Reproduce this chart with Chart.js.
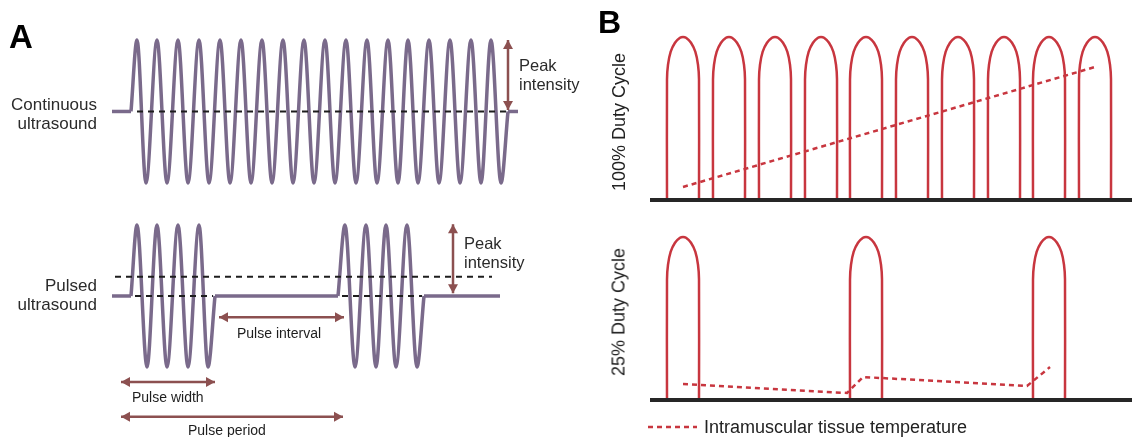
<!DOCTYPE html>
<html>
<head>
<meta charset="utf-8">
<script src="https://cdn.jsdelivr.net/npm/chart.js@4.4.1/dist/chart.umd.min.js"></script>
<style>
  html, body { margin: 0; padding: 0; background: #fff; }
  #page { position: relative; width: 1132px; height: 437px; overflow: hidden;
          font-family: "Liberation Sans", Arial, sans-serif; color: #2b2b2b; }
  canvas { position: absolute; }
  .lbl { position: absolute; white-space: nowrap; line-height: 20px; height: 20px; }
  .right { text-align: right; }
  .big { font-size: 17px; }
  .mid { font-size: 16.5px; }
  .small { font-size: 14px; color: #1e1e1e; }
  .panel { font-weight: bold; color: #000; }
  .rot { position: absolute; white-space: nowrap; font-size: 18px; color: #222;
         transform: translate(-50%, -50%) rotate(-90deg); }
</style>
</head>
<body>
<div id="page">
  <canvas id="contChart" width="590" height="200" style="left:0;top:0"></canvas>
  <canvas id="pulseChart" width="590" height="237" style="left:0;top:200px"></canvas>
  <canvas id="duty100Chart" width="542" height="215" style="left:590px;top:0"></canvas>
  <canvas id="duty25Chart" width="542" height="222" style="left:590px;top:215px"></canvas>

  <div class="lbl panel" style="left:9px;top:20px;font-size:33px;line-height:34px;height:34px">A</div>
  <div class="lbl big right" style="right:1035px;top:95px">Continuous</div>
  <div class="lbl big right" style="right:1035px;top:114px">ultrasound</div>
  <div class="lbl mid" style="left:519px;top:55px">Peak</div>
  <div class="lbl mid" style="left:519px;top:74px">intensity</div>

  <div class="lbl big right" style="right:1035px;top:276px">Pulsed</div>
  <div class="lbl big right" style="right:1035px;top:295px">ultrasound</div>
  <div class="lbl mid" style="left:464px;top:233px">Peak</div>
  <div class="lbl mid" style="left:464px;top:252px">intensity</div>
  <div class="lbl small" style="left:237px;top:323px">Pulse interval</div>
  <div class="lbl small" style="left:132px;top:387px">Pulse width</div>
  <div class="lbl small" style="left:188px;top:420px">Pulse period</div>

  <div class="lbl panel" style="left:598px;top:5px;font-size:32px;line-height:34px;height:34px">B</div>
  <div class="rot" style="left:619px;top:122px">100% Duty Cycle</div>
  <div class="rot" style="left:619px;top:312px">25% Duty Cycle</div>

  <svg width="60" height="10" style="position:absolute;left:646px;top:422px">
    <line x1="2" y1="5" x2="51" y2="5" stroke="#c8363f" stroke-width="2.5" stroke-dasharray="5 4"/>
  </svg>
  <div class="lbl" style="left:704px;top:417px;font-size:18px;color:#222">Intramuscular tissue temperature</div>
</div>

<script>
// ---- Panel A: continuous ultrasound (x = time, y = relative intensity) ----
const contLeadX = [112, 131];
const contPeakX = [137, 157, 178, 199, 220, 241, 262, 283, 304, 325, 346, 367, 388, 408, 429, 450, 471, 491];
const contTroughX = [146, 167, 188, 209, 230, 251, 272, 293, 314, 335, 356, 377, 398, 418, 439, 460, 481, 501];
const contTailX = [508, 518];
const contMeanX = [137, 508];
const contArrowX = [508, 508];
const contArrowY = [1.0, 0.02];

// ---- Panel A: pulsed ultrasound ----
const pulseFlatX = [[112, 131], [215, 338], [424, 500]];
const pulse1PeakX = [137, 157, 178, 199];
const pulse1TroughX = [147, 167, 188, 208];
const pulse2PeakX = [345, 366, 386, 407];
const pulse2TroughX = [355, 376, 396, 417];
const pulseAvgX = [115, 492];
const pulseAvgY = 0.27;
const pulseZeroDashX = [[135, 213], [342, 422]];
const peakArrowX = [453, 453];
const peakArrowY = [1.01, 0.04];
const intervalArrowX = [219, 344];
const intervalArrowY = -0.30;
const widthArrowX = [121, 215];
const widthArrowY = -1.21;
const periodArrowX = [121, 343];
const periodArrowY = -1.70;

// ---- Panel B: duty cycles (y = intensity, 1 = peak) ----
const archOutline = [[0, 0], [0, 0.74], [1, 0.83], [3.7, 0.91], [8, 0.965], [13, 0.995], [16, 1],
                     [19, 0.995], [24, 0.965], [28.3, 0.91], [31, 0.83], [32, 0.74], [32, 0]];
const duty100Starts = [667, 713, 759, 805, 850, 896, 942, 988, 1033, 1079];
const duty25Starts = [667, 850, 1033];
const baseLineX = [650, 1132];
const temp100X = [683, 1095];
const temp100Y = [0.08, 0.816];
const temp25X = [683, 847, 863, 1027, 1050];
const temp25Y = [0.098, 0.043, 0.141, 0.086, 0.202];

const WAVE = '#7a6a8b';
const ARROW = '#8c5050';
const RED = '#c8363f';
const DARK = '#1e1e1e';

Chart.defaults.font.family = '"Liberation Sans", Arial, sans-serif';

// draws arrow heads at both ends of datasets flagged with arrowHeads
const arrowPlugin = {
    id: 'arrowHeads',
    afterDatasetsDraw(chart) {
        const ctx = chart.ctx;
        chart.data.datasets.forEach((ds, i) => {
            if (!ds.arrowHeads) return;
            const pts = chart.getDatasetMeta(i).data;
            const a = pts[0], b = pts[pts.length - 1];
            const head = (tip, from) => {
                const ang = Math.atan2(tip.y - from.y, tip.x - from.x);
                const len = 9, half = 5;
                const bx = tip.x - len * Math.cos(ang), by = tip.y - len * Math.sin(ang);
                ctx.beginPath();
                ctx.moveTo(tip.x, tip.y);
                ctx.lineTo(bx - half * Math.sin(ang), by + half * Math.cos(ang));
                ctx.lineTo(bx + half * Math.sin(ang), by - half * Math.cos(ang));
                ctx.closePath();
                ctx.fill();
            };
            ctx.save();
            ctx.fillStyle = ds.borderColor;
            head(b, a);
            head(a, b);
            ctx.restore();
        });
    }
};

function line(points, color, width, extra) {
    return Object.assign({
        data: points,
        showLine: true,
        borderColor: color,
        backgroundColor: color,
        borderWidth: width,
        pointRadius: 0,
        pointHoverRadius: 0,
        fill: false,
        clip: false,
        tension: 0
    }, extra || {});
}

function xy(xs, ys) {
    return xs.map((x, i) => ({ x: x, y: Array.isArray(ys) ? ys[i] : ys }));
}

function wave(startX, peaks, troughs, endX) {
    const pts = [{ x: startX, y: 0 }];
    peaks.forEach((p, i) => {
        pts.push({ x: p, y: 1 });
        pts.push({ x: troughs[i], y: -1 });
    });
    pts.push({ x: endX, y: 0 });
    return pts;
}

const waveStyle = { cubicInterpolationMode: 'monotone', borderJoinStyle: 'round' };

function makeChart(id, datasets, xMin, xMax, yMin, yMax) {
    return new Chart(document.getElementById(id), {
        type: 'scatter',
        data: { datasets: datasets },
        options: {
            responsive: false,
            animation: false,
            events: [],
            layout: { padding: 0 },
            plugins: { legend: { display: false }, tooltip: { enabled: false } },
            scales: {
                x: { type: 'linear', min: xMin, max: xMax, display: false },
                y: { type: 'linear', min: yMin, max: yMax, display: false }
            }
        },
        plugins: [arrowPlugin]
    });
}

// Continuous ultrasound
makeChart('contChart', [
    line(xy(contMeanX, 0), DARK, 2, { borderDash: [6, 5] }),
    line(xy(contArrowX, contArrowY), ARROW, 2.5, { arrowHeads: true }),
    line(wave(contLeadX[1], contPeakX, contTroughX, contTailX[0]), WAVE, 3.5, waveStyle),
    line(xy(contLeadX, 0), WAVE, 3.5),
    line(xy(contTailX, 0), WAVE, 3.5)
], 0, 590, -1.238, 1.559);

// Pulsed ultrasound
makeChart('pulseChart', [
    line(xy(pulseAvgX, pulseAvgY), DARK, 2, { borderDash: [6, 5] }),
    ...pulseZeroDashX.map(xs => line(xy(xs, 0), DARK, 2, { borderDash: [6, 5] })),
    line(xy(peakArrowX, peakArrowY), ARROW, 2.5, { arrowHeads: true }),
    line(xy(intervalArrowX, intervalArrowY), ARROW, 2.5, { arrowHeads: true }),
    line(xy(widthArrowX, widthArrowY), ARROW, 2.5, { arrowHeads: true }),
    line(xy(periodArrowX, periodArrowY), ARROW, 2.5, { arrowHeads: true }),
    line(wave(pulseFlatX[0][1], pulse1PeakX, pulse1TroughX, pulseFlatX[1][0]), WAVE, 3.5, waveStyle),
    line(wave(pulseFlatX[1][1], pulse2PeakX, pulse2TroughX, pulseFlatX[2][0]), WAVE, 3.5, waveStyle),
    ...pulseFlatX.map(xs => line(xy(xs, 0), WAVE, 3.5))
], 0, 590, -1.986, 1.352);

function arches(starts) {
    return starts.map(s => line(archOutline.map(([dx, y]) => ({ x: s + dx, y: y })), RED, 2.5, { tension: 0.3 }));
}

// 100% duty cycle
makeChart('duty100Chart', [
    line(xy(baseLineX, 0), '#262626', 4),
    line(xy(temp100X, temp100Y), RED, 2.5, { borderDash: [5, 4] }),
    ...arches(duty100Starts)
], 590, 1132, -0.092, 1.227);

// 25% duty cycle
makeChart('duty25Chart', [
    line(xy(baseLineX, 0), '#262626', 4),
    line(xy(temp25X, temp25Y), RED, 2.5, { borderDash: [5, 4] }),
    ...arches(duty25Starts)
], 590, 1132, -0.227, 1.135);
</script>
</body>
</html>
